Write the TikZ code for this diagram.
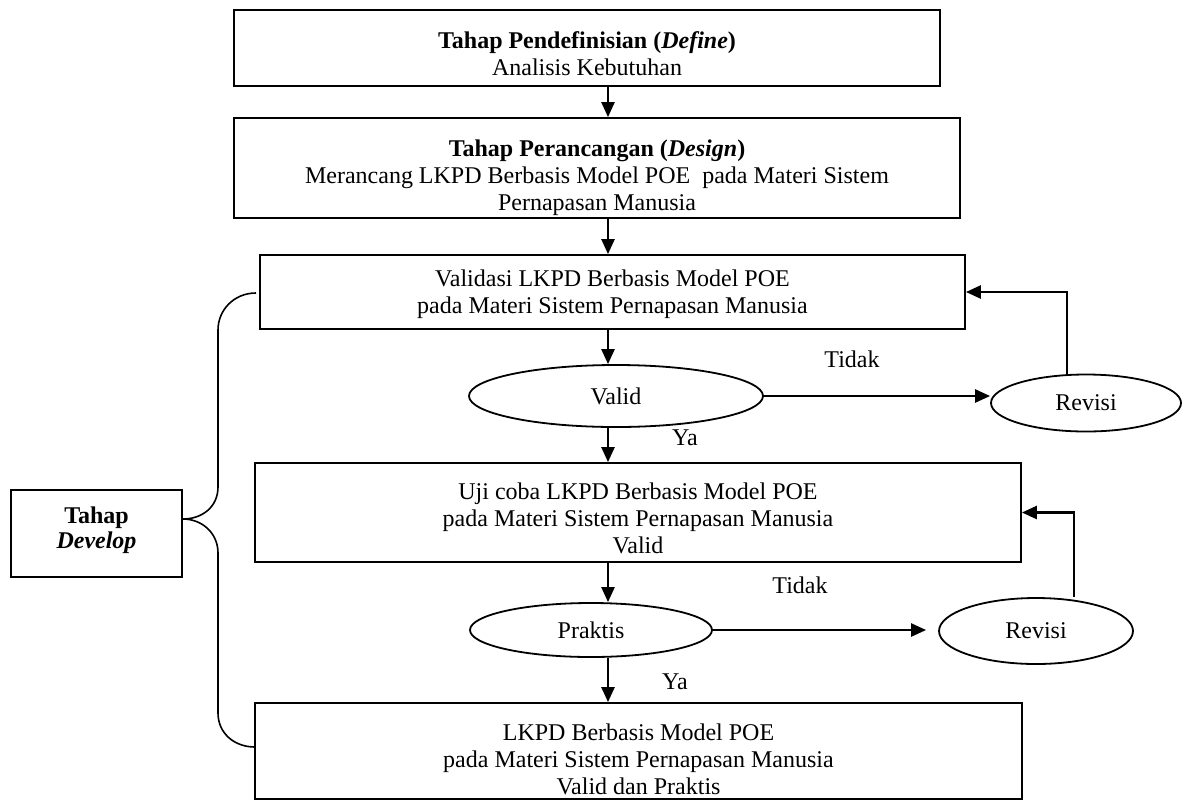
\documentclass[tikz,border=0pt]{standalone}
\usepackage{fontspec}
\setmainfont{Liberation Serif}
\usetikzlibrary{arrows.meta,shapes.geometric}
\begin{document}
\begin{tikzpicture}[x=1pt,y=-1pt,
  box/.style={draw, line width=1.8pt, rectangle, inner sep=0pt},
  oval/.style={draw, line width=1.8pt, ellipse, inner sep=0pt, font=\fontsize{24}{27}\selectfont},
  txt/.style={align=center, inner sep=0pt, font=\fontsize{24}{27}\selectfont},
  arr/.style={line width=2.5pt, -{Triangle[length=15pt,width=13pt]}},
  brace/.style={line width=1.6pt}]
\useasboundingbox (0,0) rectangle (1182,801);

% boxes
\node[box, minimum width=706pt, minimum height=76pt] (b1) at (587,48) {};
\node[txt] (t1) at (587,54) {\textbf{Tahap Pendefinisian (\textit{Define})}\\Analisis Kebutuhan};

\node[box, minimum width=726pt, minimum height=100pt] (b2) at (597,168) {};
\node[txt] (t2) at (597,178) {\textbf{Tahap Perancangan (\textit{Design})}\\Merancang LKPD Berbasis Model POE\ \ pada Materi Sistem\\Pernapasan Manusia};

\node[box, minimum width=705pt, minimum height=74pt] (b3) at (612.5,292) {};
\node[txt] (t3) at (612.5,294) {Validasi LKPD Berbasis Model POE\\pada Materi Sistem Pernapasan Manusia};

\node[oval, minimum width=294pt, minimum height=62pt] (valid) at (616,396) {Valid};
\node[oval, minimum width=190pt, minimum height=57pt] (rev1) at (1086,403) {Revisi};

\node[box, minimum width=766pt, minimum height=99pt] (b4) at (638,512.5) {};
\node[txt] (t4) at (638,518.5) {Uji coba LKPD Berbasis Model POE\\pada Materi Sistem Pernapasan Manusia\\Valid};

\node[oval, minimum width=242pt, minimum height=54pt] (prak) at (591,630) {Praktis};
\node[oval, minimum width=194pt, minimum height=66pt] (rev2) at (1036,631) {Revisi};

\node[box, minimum width=767pt, minimum height=96pt] (b5) at (638.5,751) {};
\node[txt] (t5) at (638.5,759) {LKPD Berbasis Model POE\\pada Materi Sistem Pernapasan Manusia\\Valid dan Praktis};

\node[box, minimum width=171pt, minimum height=87pt] (dev) at (96.5,533.5) {};
\node[txt, font=\fontsize{24}{25}\selectfont] (tdev) at (96.5,530) {\textbf{Tahap}\\\textbf{\textit{Develop}}};

% labels
\node[txt] (l1) at (852,359) {Tidak};
\node[txt] (l2) at (685,438) {Ya};
\node[txt] (l3) at (800,585) {Tidak};
\node[txt] (l4) at (675,682) {Ya};

% vertical arrows
\coordinate (ax) at (608,0);
\draw[arr] (b1.south -| ax) -- (b2.north -| ax);
\draw[arr] (b2.south -| ax) -- (b3.north -| ax);
\draw[arr] (b3.south -| ax) -- (valid.north -| ax);
\draw[arr] (valid.south -| ax) -- (b4.north -| ax);
\draw[arr] (b4.south -| ax) -- (prak.north -| ax);
\draw[arr] (prak.south -| ax) -- (b5.north -| ax);

% side arrows
\draw[arr] (valid.east) -- (valid.east -| rev1.west);
\draw[arr] ([xshift=-19pt]rev1.north) |- (b3.east);
\draw[arr] (prak.east) -- ([xshift=-12pt]prak.east -| rev2.west);
\draw[arr] ([xshift=38pt]rev2.north) |- (b4.east);

% brace
\coordinate (bj) at (dev.east |- 0,519);
\coordinate (bt) at (256,293);
\coordinate (bb) at (255,747);
\draw[brace] (bt) .. controls (234,293) and (218,310) .. (218,330) -- (218,487)
  .. controls (218,507) and (202,519) .. (bj)
  .. controls (202,519) and (218,533) .. (218,553) -- (218,713)
  .. controls (218,733) and (234,747) .. (bb);
\end{tikzpicture}
\end{document}
